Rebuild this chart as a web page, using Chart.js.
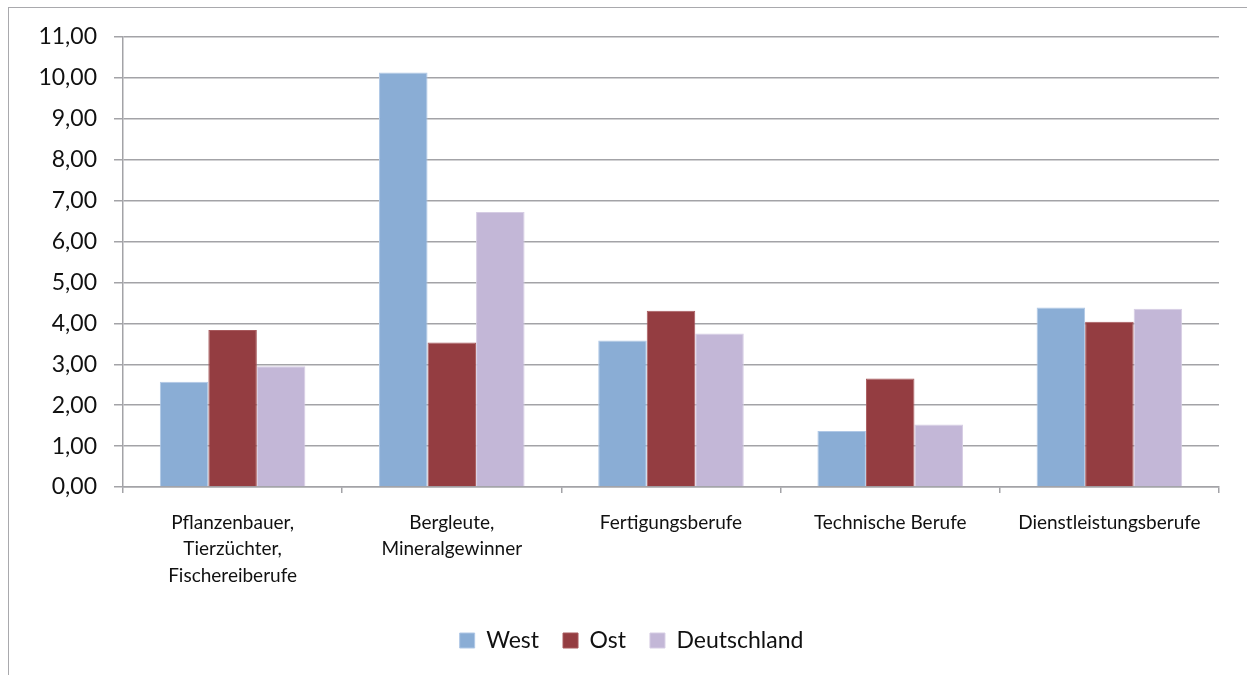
<!DOCTYPE html>
<html>
<head>
<meta charset="utf-8">
<script src="https://cdn.jsdelivr.net/npm/chart.js@4.4.0/dist/chart.umd.min.js"></script>
<style>
  html, body { margin: 0; padding: 0; background: #ffffff; }
  #wrap { position: relative; width: 1247px; height: 675px; overflow: hidden; }
  #frame { position: absolute; left: 8px; top: 7px; width: 1400px; height: 800px; border: 1.5px solid #a9a9ad; box-sizing: border-box; }
  canvas { position: absolute; left: 0; top: 0; }
</style>
</head>
<body>
<div id="wrap">
  <div id="frame"></div>
  <canvas id="c" width="1247" height="675"></canvas>
</div>
<script>
const categories = [
  ["Pflanzenbauer,", "Tierzüchter,", "Fischereiberufe"],
  ["Bergleute,", "Mineralgewinner"],
  "Fertigungsberufe",
  "Technische Berufe",
  "Dienstleistungsberufe"
];
const seriesNames = ["West", "Ost", "Deutschland"];
const westValues = [2.57, 10.13, 3.58, 1.37, 4.39];
const ostValues = [3.84, 3.53, 4.31, 2.65, 4.04];
const deutschlandValues = [2.95, 6.72, 3.75, 1.53, 4.36];
const yTicks = [0, 1, 2, 3, 4, 5, 6, 7, 8, 9, 10, 11];

const gridColor = '#a3a3a7';
const fontFamily = 'Lato, "Open Sans", sans-serif';

// shift the library legend so it is centred like the reference
const legendShift = {
  id: 'legendShift',
  afterLayout(chart) {
    const l = chart.legend;
    if (l) { l.left += 22; l.right += 22; }
  }
};

new Chart(document.getElementById('c'), {
  type: 'bar',
  data: {
    labels: categories,
    datasets: [
      { label: seriesNames[0], data: westValues, backgroundColor: '#8aadd5', borderColor: '#b0c8e6', borderWidth: 1 },
      { label: seriesNames[1], data: ostValues, backgroundColor: '#943d41', borderColor: '#a85a5d', borderWidth: 1 },
      { label: seriesNames[2], data: deutschlandValues, backgroundColor: '#c3b7d7', borderColor: '#d6cde4', borderWidth: 1 }
    ]
  },
  plugins: [legendShift],
  options: {
    responsive: false,
    animation: false,
    devicePixelRatio: 1,
    layout: { padding: { left: 0, right: 28, top: 37, bottom: 13 } },
    datasets: { bar: { barPercentage: 1.0, categoryPercentage: 0.664 } },
    plugins: {
      tooltip: { enabled: false },
      legend: {
        position: 'bottom',
        labels: {
          boxWidth: 15,
          boxHeight: 15,
          padding: 24,
          color: '#111111',
          font: { family: fontFamily, size: 23 }
        }
      }
    },
    scales: {
      x: {
        offset: true,
        grid: { display: true, offset: true, drawOnChartArea: false, drawTicks: true, tickLength: 6, color: gridColor, lineWidth: 1.5 },
        border: { display: true, color: gridColor, width: 1.5 },
        ticks: {
          color: '#111111',
          padding: 17,
          maxRotation: 0,
          autoSkip: false,
          font: { family: fontFamily, size: 19, lineHeight: 1.38 }
        },
        afterFit: (s) => { s.height = 118; }
      },
      y: {
        min: 0,
        max: 11,
        afterBuildTicks: (s) => { s.ticks = yTicks.map(v => ({ value: v })); },
        grid: { color: gridColor, lineWidth: 1.5, tickLength: 9, drawTicks: true },
        border: { display: true, color: gridColor, width: 1.5 },
        ticks: {
          color: '#111111',
          padding: 17,
          font: { family: fontFamily, size: 23 },
          callback: (v) => Number(v).toFixed(2).replace('.', ',')
        },
        afterFit: (s) => { s.width = 123; }
      }
    }
  }
});
</script>
</body>
</html>
